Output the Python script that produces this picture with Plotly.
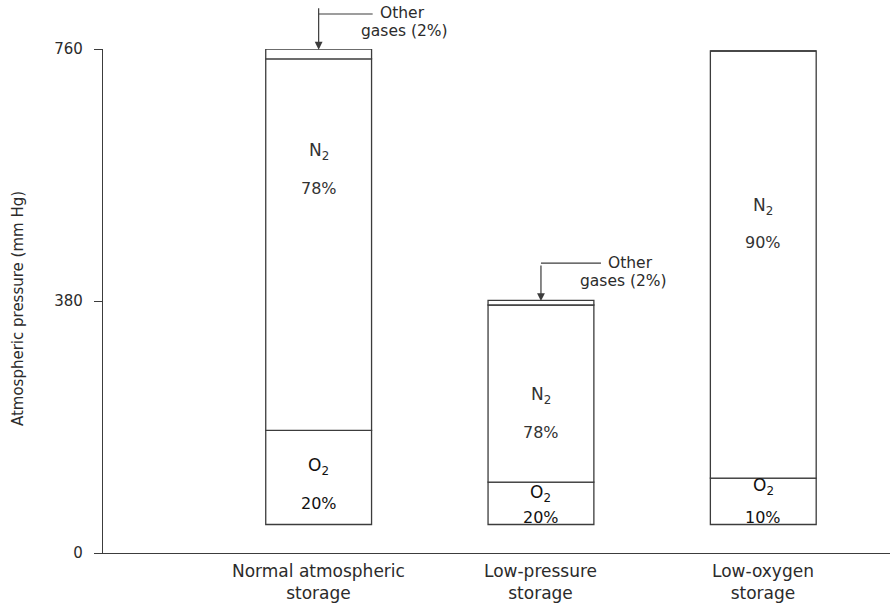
import plotly.graph_objects as go

# ---- data (mm Hg, as drawn) ----
categories = ["Normal atmospheric<br>storage", "Low-pressure<br>storage", "Low-oxygen<br>storage"]
bar_floor = [43, 43, 43]          # drawn bottom of each column
o2_mmhg = [142, 64, 70]
n2_mmhg = [560, 267, 644]
other_mmhg = [15, 7, 0]
o2_pct = ["20%", "20%", "10%"]
n2_pct = ["78%", "78%", "90%"]
y_ticks = [0, 380, 760]
other_label = ["Other", "gases (2%)"]

# ---- layout constants ----
n2_name_y = [605, 237, 522]
n2_pct_y = [550, 181, 468]
o2_name_y = [130, 90, 100]
o2_pct_y = [75, 54, 54]

FONT = "DejaVu Sans"
INK = "#2b2b2b"
LINE = "#3c3c3c"

x = list(range(len(categories)))
o2_base = bar_floor
n2_base = [b + o for b, o in zip(bar_floor, o2_mmhg)]
oth_base = [b + n for b, n in zip(n2_base, n2_mmhg)]
tops = [b + o for b, o in zip(oth_base, other_mmhg)]

fig = go.Figure()
bar_style = dict(marker=dict(color="white", line=dict(color=LINE, width=1.3)),
                 width=0.476, showlegend=False, hoverinfo="skip")
fig.add_trace(go.Bar(x=x, y=o2_mmhg, base=o2_base, name="O2", **bar_style))
fig.add_trace(go.Bar(x=x, y=n2_mmhg, base=n2_base, name="N2", **bar_style))
fig.add_trace(go.Bar(x=x, y=other_mmhg, base=oth_base, name="Other", **bar_style))

ann = []
for i in x:
    ann.append(dict(x=i, y=n2_name_y[i], text="N<sub>2</sub>", showarrow=False,
                    font=dict(family=FONT, size=17, color="#333")))
    ann.append(dict(x=i, y=n2_pct_y[i], text=n2_pct[i], showarrow=False,
                    font=dict(family=FONT, size=16, color="#333")))
    ann.append(dict(x=i, y=o2_name_y[i], text="O<sub>2</sub>", showarrow=False,
                    font=dict(family=FONT, size=17, color="#111")))
    ann.append(dict(x=i, y=o2_pct_y[i], text=o2_pct[i], showarrow=False,
                    font=dict(family=FONT, size=16, color="#111")))
    # category label (two lines)
    ann.append(dict(x=i, y=0, yref="paper", text=categories[i], showarrow=False,
                    yanchor="middle", yshift=-29,
                    font=dict(family=FONT, size=17, color=INK)))

shapes = []
# "Other gases" callouts (normal and low-pressure columns)
callouts = [
    dict(i=0, elbow=1.0694, yref="paper", arrow_len=43, line_px=54, sh_other=59, sh_gases=40,
         y_other=1.0714, y_gases=1.0357),
    dict(i=1, elbow=437, yref="y", arrow_len=37, line_px=60, sh_other=65, sh_gases=37,
         y_other=438, y_gases=410),
]
for c in callouts:
    i = c["i"]
    ann.append(dict(x=i, y=tops[i] - 1, text="", showarrow=True, ax=0, ay=-c["arrow_len"],
                    arrowhead=2, arrowsize=1.3, arrowwidth=1.2, arrowcolor=LINE))
    shapes.append(dict(type="line", xref="x", xsizemode="pixel", xanchor=i, x0=0, x1=c["line_px"],
                       yref=c["yref"], y0=c["elbow"], y1=c["elbow"],
                       line=dict(color=LINE, width=1.2)))
    ann.append(dict(x=i, y=c["y_other"], yref=c["yref"], text=other_label[0], showarrow=False,
                    xanchor="left", xshift=c["sh_other"], yanchor="middle",
                    font=dict(family=FONT, size=15.5, color=INK)))
    ann.append(dict(x=i, y=c["y_gases"], yref=c["yref"], text=other_label[1], showarrow=False,
                    xanchor="left", xshift=c["sh_gases"], yanchor="middle",
                    font=dict(family=FONT, size=15.5, color=INK)))

# y-axis title
ann.append(dict(x=0, xref="paper", y=0.484, yref="paper", text="Atmospheric pressure (mm Hg)",
                textangle=-90, showarrow=False, xanchor="center", xshift=-85,
                font=dict(family=FONT, size=15, color=INK)))

fig.update_layout(
    width=896, height=605,
    margin=dict(l=103, r=6, t=49, b=52),
    paper_bgcolor="white", plot_bgcolor="white",
    barmode="overlay",
    annotations=ann, shapes=shapes,
    xaxis=dict(range=[-0.97, 2.57], showline=True, linecolor=LINE, linewidth=1.2,
               showticklabels=False, ticks="", showgrid=False, zeroline=False, fixedrange=True),
    yaxis=dict(range=[0, 760], tickvals=y_ticks, ticktext=[str(v) for v in y_ticks],
               showline=True, linecolor=LINE, linewidth=1.2, ticks="outside", ticklen=8,
               tickcolor=LINE, tickwidth=1.2, showgrid=False, zeroline=False,
               tickfont=dict(family=FONT, size=15, color=INK), ticklabelstandoff=8),
)

# remove the default page margin so the figure fills the window exactly
fig.write_html("out.html", config={"displayModeBar": False},
               post_script="document.body.style.margin='0';document.body.style.overflow='hidden';")
